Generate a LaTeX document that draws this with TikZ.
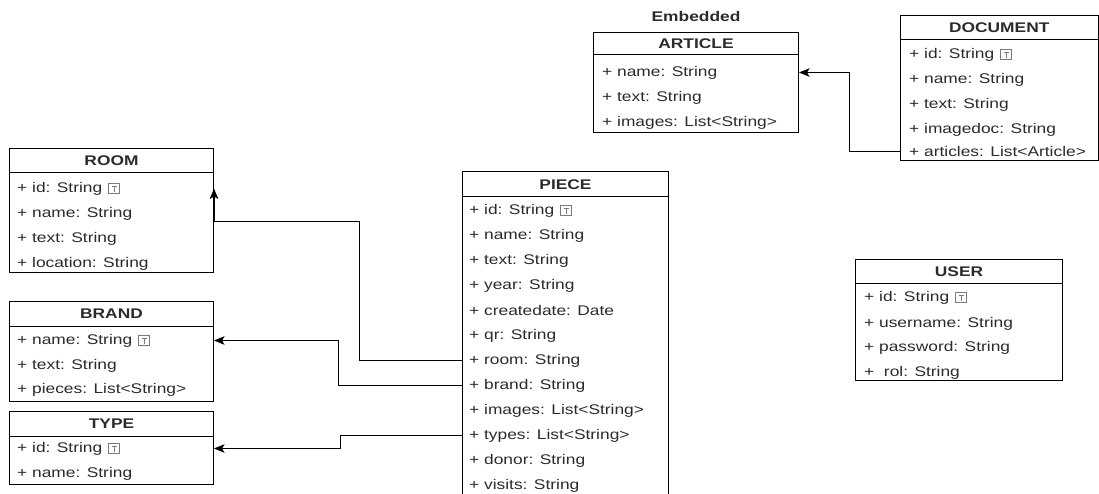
\documentclass[tikz,border=0pt]{standalone}
\usepackage{fontspec}
\setmainfont[FakeStretch=1.24]{Liberation Sans}
\usetikzlibrary{arrows.meta}
\definecolor{ink}{HTML}{2B2B2B}
\definecolor{keygray}{HTML}{7A7A7A}

% class header separator
\newcommand{\classrule}[2]{\draw[line width=1pt] ([yshift=-#2]#1.north west) -- ([yshift=-#2]#1.north east);}

\begin{document}
\begin{tikzpicture}[x=1pt,y=-1pt,
  classbox/.style={draw=black, line width=1pt, anchor=north west, inner sep=0pt},
  ctitle/.style={font=\fontsize{14}{16}\selectfont\bfseries, text=ink, inner sep=0pt},
  attr/.style={font=\fontsize{14}{16}\selectfont, text=ink, anchor=west, inner sep=0pt, yshift=-1.5pt},
  link/.style={draw=black, line width=1pt},
  tip/.style={-{Stealth[length=10.5pt,width=8.5pt,inset=2.5pt]}},
  keybox/.style={draw=keygray, line width=0.6pt, minimum width=11pt, minimum height=10pt,
    inner sep=0pt, anchor=west,
    path picture={
      \draw[keygray, line width=0.8pt]
        ([xshift=-2.5pt,yshift=2.2pt]path picture bounding box.center) --
        ([xshift=2.5pt,yshift=2.2pt]path picture bounding box.center);
      \draw[keygray, line width=0.8pt]
        ([yshift=2.2pt]path picture bounding box.center) --
        ([yshift=-3pt]path picture bounding box.center) -- ++(1.2pt,0);
    }}
]
\clip (0,0) rectangle (1099,494);

% ---------- ROOM ----------
\node[classbox, minimum width=204pt, minimum height=124pt] (room) at (9,148) {};
\classrule{room}{25pt}
\node[ctitle] (roomTitle) at ([yshift=-13pt]room.north) {ROOM};
\node[attr] (roomId) at (17,187) {+ id: String};
\node[keybox] (roomKey) at ([xshift=6pt]roomId.east) {};
\node[attr] (roomName) at (17,212) {+ name: String};
\node[attr] (roomText) at (17,237) {+ text: String};
\node[attr] (roomLoc) at (17,262) {+ location: String};

% ---------- BRAND ----------
\node[classbox, minimum width=204pt, minimum height=100pt] (brand) at (9,301) {};
\classrule{brand}{25pt}
\node[ctitle] (brandTitle) at ([yshift=-13pt]brand.north) {BRAND};
\node[attr] (brandName) at (17,339) {+ name: String};
\node[keybox] (brandKey) at ([xshift=6pt]brandName.east) {};
\node[attr] (brandText) at (17,364) {+ text: String};
\node[attr] (brandPieces) at (17,388) {+ pieces: List<String>};

% ---------- TYPE ----------
\node[classbox, minimum width=204pt, minimum height=73pt] (type) at (9,411) {};
\classrule{type}{25pt}
\node[ctitle] (typeTitle) at ([yshift=-13pt]type.north) {TYPE};
\node[attr] (typeId) at (17,447) {+ id: String};
\node[keybox] (typeKey) at ([xshift=6pt]typeId.east) {};
\node[attr] (typeName) at (17,472) {+ name: String};

% ---------- PIECE ----------
\node[classbox, minimum width=206pt, minimum height=340pt] (piece) at (462,171) {};
\classrule{piece}{26pt}
\node[ctitle] (pieceTitle) at ([yshift=-13.5pt]piece.north) {PIECE};
\node[attr] (pieceId) at (469,209) {+ id: String};
\node[keybox] (pieceKey) at ([xshift=6pt]pieceId.east) {};
\node[attr] (pieceName) at (469,234) {+ name: String};
\node[attr] (pieceText) at (469,259) {+ text: String};
\node[attr] (pieceYear) at (469,284) {+ year: String};
\node[attr] (pieceDate) at (469,309) {+ createdate: Date};
\node[attr] (pieceQr) at (469,334) {+ qr: String};
\node[attr] (pieceRoom) at (469,359) {+ room: String};
\node[attr] (pieceBrand) at (469,384) {+ brand: String};
\node[attr] (pieceImages) at (469,409) {+ images: List<String>};
\node[attr] (pieceTypes) at (469,434) {+ types: List<String>};
\node[attr] (pieceDonor) at (469,459) {+ donor: String};
\node[attr] (pieceVisits) at (469,484) {+ visits: String};

% ---------- ARTICLE (embedded) ----------
\node[ctitle] (embedded) at (696,16) {Embedded};
\node[classbox, minimum width=205pt, minimum height=100pt] (article) at (593,32) {};
\classrule{article}{23pt}
\node[ctitle] (articleTitle) at ([yshift=-12pt]article.north) {ARTICLE};
\node[attr] (articleName) at (602,71) {+ name: String};
\node[attr] (articleText) at (602,96) {+ text: String};
\node[attr] (articleImages) at (602,121) {+ images: List<String>};

% ---------- DOCUMENT ----------
\node[classbox, minimum width=197.5pt, minimum height=145pt] (document) at (900,15) {};
\classrule{document}{25pt}
\node[ctitle] (docTitle) at ([yshift=-13pt]document.north) {DOCUMENT};
\node[attr] (docId) at (909,53) {+ id: String};
\node[keybox] (docKey) at ([xshift=6pt]docId.east) {};
\node[attr] (docName) at (909,78) {+ name: String};
\node[attr] (docText) at (909,103) {+ text: String};
\node[attr] (docImage) at (909,128) {+ imagedoc: String};
\node[attr] (docArticles) at (909,150) {+ articles: List<Article>};

% ---------- USER ----------
\node[classbox, minimum width=207pt, minimum height=121pt] (user) at (855,259) {};
\classrule{user}{24pt}
\node[ctitle] (userTitle) at ([yshift=-12.5pt]user.north) {USER};
\node[attr] (userId) at (864,296) {+ id: String};
\node[keybox] (userKey) at ([xshift=6pt]userId.east) {};
\node[attr] (userName) at (864,322) {+ username: String};
\node[attr] (userPass) at (864,346) {+ password: String};
\node[attr] (userRol) at (864,371) {+~~rol: String};

% ---------- connectors ----------
\draw[link, tip] (piece.west |- pieceRoom) -| (359,222) -| (room.east |- roomId);
\draw[link, tip] (piece.west |- pieceBrand) -- ++(-124,0) |- (brand.east |- brandName);
\draw[link, tip] (piece.west |- pieceTypes) -- ++(-122,0) |- (type.east |- typeId);
\draw[link, tip] (document.west |- docArticles) -- ++(-51,0) |- (article.east |- articleName);
\end{tikzpicture}
\end{document}
